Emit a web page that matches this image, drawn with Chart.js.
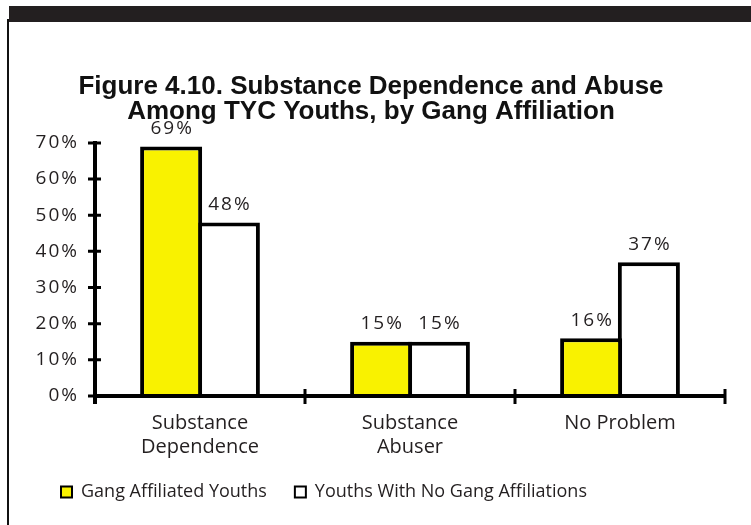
<!DOCTYPE html>
<html>
<head>
<meta charset="utf-8">
<script src="https://cdn.jsdelivr.net/npm/chart.js@4/dist/chart.umd.min.js"></script>
<style>
  html, body { margin: 0; padding: 0; background: #fff; }
  #frame { position: relative; width: 751px; height: 525px; overflow: hidden; background: #fff; }
  #topBar { position: absolute; left: 9px; top: 6px; width: 742px; height: 16px; background: #231f20; }
  #leftRule { position: absolute; left: 7px; top: 19px; width: 2px; height: 506px; background: #111; }
  #chart { position: absolute; left: 0; top: 0; }
</style>
</head>
<body>
<div id="frame">
  <div id="topBar"></div>
  <div id="leftRule"></div>
  <canvas id="chart" width="751" height="525"></canvas>
</div>
<script>
// Percent of youths in each substance-use group
const categories = [['Substance', 'Dependence'], ['Substance', 'Abuser'], ['No Problem']];
const gangAffiliated = [69, 15, 16];
const noGangAffiliation = [48, 15, 37];
const seriesNames = ['Gang Affiliated Youths', 'Youths With No Gang Affiliations'];
const yTicks = [0, 10, 20, 30, 40, 50, 60, 70];

const INK = '#231f20';
const YELLOW = '#f9f200';

// Heavy axis lines with tick marks that cross the axis
const axisMarks = {
  id: 'axisMarks',
  afterDatasetsDraw(chart) {
    const { ctx, chartArea } = chart;
    const x = chart.scales.x, y = chart.scales.y;
    const base = y.getPixelForValue(0);
    const top = y.getPixelForValue(yTicks[yTicks.length - 1]);
    ctx.save();
    ctx.strokeStyle = '#000';
    ctx.lineCap = 'butt';
    // axis lines
    ctx.lineWidth = 4;
    ctx.beginPath();
    ctx.moveTo(chartArea.left, top - 2);
    ctx.lineTo(chartArea.left, base + 8);
    ctx.moveTo(chartArea.left - 2, base);
    ctx.lineTo(chartArea.right + 1, base);
    ctx.stroke();
    // value ticks
    ctx.lineWidth = 3;
    ctx.beginPath();
    yTicks.forEach(v => {
      const py = y.getPixelForValue(v);
      ctx.moveTo(chartArea.left - 7, py);
      ctx.lineTo(chartArea.left + 6, py);
    });
    // category boundary ticks
    const bounds = [chartArea.left];
    for (let i = 1; i < categories.length; i++) {
      bounds.push((x.getPixelForValue(i - 1) + x.getPixelForValue(i)) / 2);
    }
    bounds.push(chartArea.right);
    bounds.forEach(px => {
      ctx.moveTo(px, base - 7);
      ctx.lineTo(px, base + 8);
    });
    ctx.stroke();
    ctx.restore();
  }
};

// Value labels above each bar
const valueLabels = {
  id: 'valueLabels',
  afterDatasetsDraw(chart) {
    const { ctx } = chart;
    ctx.save();
    ctx.font = '19px "Open Sans"';
    ctx.fillStyle = INK;
    ctx.textAlign = 'center';
    ctx.textBaseline = 'middle';
    ctx.letterSpacing = '2px';
    chart.data.datasets.forEach((ds, di) => {
      chart.getDatasetMeta(di).data.forEach((bar, i) => {
        ctx.fillText(ds.data[i] + '%', bar.x + 1, bar.y - 18);
      });
    });
    ctx.restore();
  }
};

// Tracked lettering for the value axis labels, plus legend placement
const axisLettering = {
  id: 'axisLettering',
  afterLayout(chart) {
    const s = chart.scales.y;
    if (!s._tracked) {
      const orig = s.drawLabels;
      s.drawLabels = function (area) {
        this.ctx.save();
        this.ctx.letterSpacing = '2px';
        orig.call(this, area);
        this.ctx.restore();
      };
      s._tracked = true;
    }
    const lg = chart.legend;
    if (lg) {
      lg.left += 16; lg.right += 16;
      lg.top -= 7; lg.bottom -= 7;
    }
  }
};

new Chart(document.getElementById('chart'), {
  type: 'bar',
  data: {
    labels: categories,
    datasets: [
      {
        label: seriesNames[0],
        data: gangAffiliated,
        backgroundColor: YELLOW,
        borderColor: '#000',
        borderWidth: 4,
        borderSkipped: 'start',
        categoryPercentage: 0.55,
        barPercentage: 1.074
      },
      {
        label: seriesNames[1],
        data: noGangAffiliation,
        backgroundColor: '#ffffff',
        borderColor: '#000',
        borderWidth: 4,
        borderSkipped: 'start',
        categoryPercentage: 0.55,
        barPercentage: 1.074
      }
    ]
  },
  options: {
    responsive: false,
    animation: false,
    devicePixelRatio: 1,
    layout: { padding: { left: 17, right: 26, top: 0, bottom: 7 } },
    plugins: {
      title: {
        display: true,
        text: ['Figure 4.10. Substance Dependence and Abuse', 'Among TYC Youths, by Gang Affiliation'],
        color: '#111',
        font: { family: '"Liberation Sans", Arial, sans-serif', size: 26, weight: 'bold', lineHeight: 0.94 },
        padding: { top: 75, bottom: 19 }
      },
      legend: {
        display: true,
        position: 'bottom',
        align: 'start',
        labels: {
          color: INK,
          font: { family: '"Open Sans", sans-serif', size: 18 },
          boxWidth: 11,
          boxHeight: 11,
          padding: 28,
          generateLabels(chart) {
            return Chart.defaults.plugins.legend.labels.generateLabels(chart)
              .map(item => Object.assign(item, { lineWidth: 2, strokeStyle: '#000' }));
          }
        }
      },
      tooltip: { enabled: false }
    },
    scales: {
      x: {
        grid: { display: false, drawTicks: false },
        border: { display: false },
        ticks: {
          color: INK,
          font: { family: '"Open Sans", sans-serif', size: 20, lineHeight: 1.2 },
          padding: 15,
          autoSkip: false,
          maxRotation: 0
        },
        afterFit(scale) { scale.height = 66; }
      },
      y: {
        min: 0,
        max: 70,
        grid: { display: false, drawTicks: false },
        border: { display: false },
        ticks: {
          stepSize: 10,
          color: INK,
          font: { family: '"Open Sans", sans-serif', size: 19 },
          padding: 16,
          callback: v => v + '%'
        },
        afterFit(scale) { scale.width = 78; }
      }
    }
  },
  plugins: [axisMarks, valueLabels, axisLettering]
});
</script>
</body>
</html>
